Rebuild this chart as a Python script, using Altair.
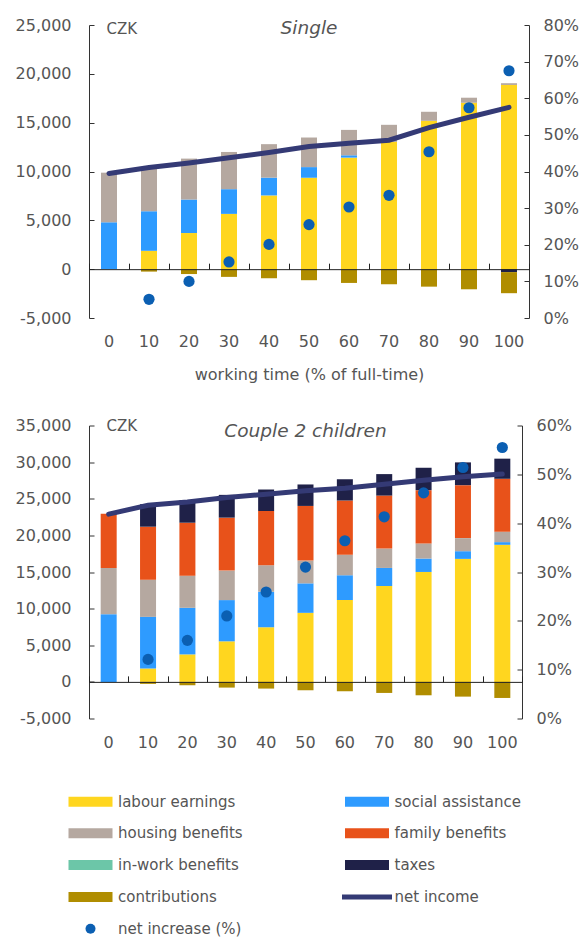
import altair as alt
import pandas as pd

x_vals = [0, 10, 20, 30, 40, 50, 60, 70, 80, 90, 100]
components = ["labour earnings", "social assistance", "housing benefits", "family benefits",
              "in-work benefits", "taxes", "contributions"]
# legend is filled column by column: this order reads row by row in two columns
legend_items = ["labour earnings", "housing benefits", "in-work benefits", "contributions",
                "net increase (%)", "social assistance", "family benefits", "taxes", "net income"]
legend_colors = ["#FFD61F", "#B5A8A0", "#6CC6A8", "#B08D00", "#0B5FB2",
                 "#2E9BFF", "#E8521A", "#1F2148", "#343A75"]
NET_COLOR = "#343A75"
DOT_COLOR = "#0B5FB2"

# Single
s_labour = [0, 1880, 3700, 5660, 7550, 9360, 11420, 13030, 15190, 17040, 18860]
s_social = [4800, 4050, 3430, 2530, 1820, 1090, 240, 0, 0, 0, 0]
s_housing = [5080, 4400, 4190, 3810, 3430, 3030, 2600, 1750, 925, 515, 180]
s_family = [0] * 11
s_inwork = [0] * 11
s_taxes = [0, 0, 0, 0, 0, 0, 0, 0, 0, 0, -300]
s_contrib = [0, -250, -500, -790, -930, -1130, -1410, -1545, -1790, -2060, -2160]
s_net = [9800, 10400, 10870, 11400, 11950, 12550, 12900, 13200, 14500, 15550, 16570]
s_inc = [None, 5.1, 10.0, 15.3, 20.1, 25.5, 30.3, 33.5, 45.4, 57.4, 67.5]

# Couple 2 children
c_labour = [0, 1830, 3750, 5535, 7457, 9425, 11163, 13085, 15006, 16790, 18712]
c_social = [9240, 7045, 6360, 5630, 4850, 4025, 3385, 2470, 1830, 1050, 366]
c_housing = [6315, 5080, 4390, 4025, 3614, 3110, 2790, 2650, 2060, 1785, 1420]
c_family = [7410, 7230, 7230, 7230, 7410, 7460, 7410, 7230, 7275, 7230, 7230]
c_inwork = [0] * 11
c_taxes = [0, 3070, 3070, 3110, 2930, 2930, 2930, 2930, 3060, 3110, 2745]
c_contrib = [0, -275, -460, -780, -915, -1145, -1280, -1510, -1830, -2013, -2196]
c_net = [22900, 24110, 24570, 25160, 25620, 26080, 26440, 26990, 27540, 28000, 28365]
c_inc = [None, 12.1, 16.0, 21.0, 25.9, 31.0, 36.4, 41.3, 46.2, 51.4, 55.5]

FONT = "DejaVu Sans"
GREY = "#555555"

legend = alt.Legend(
    title=None, orient="none", legendX=-6, legendY=769, columns=2, padding=0,
    columnPadding=98.5, rowPadding=15.8, labelFontSize=15, labelColor=GREY, labelFont=FONT,
    labelOffset=20, symbolSize=100, symbolStrokeWidth=0, symbolOpacity=1,
    symbolType={"expr": "datum.value === 'net income' ? 'M-5,-0.5H5V0.5H-5Z' : "
                        "(datum.value === 'net increase (%)' ? 'circle' : 'M-4.4,-1H4.4V1H-4.4Z')"},
)


def long_df(lists):
    rows = []
    for ci, (name, vals) in enumerate(zip(components, lists)):
        for x, v in zip(x_vals, vals):
            if v != 0:
                rows.append({"x": x, "component": name, "value": v, "order": ci})
    return pd.DataFrame(rows)


def panel(title, lists, net, inc, ymin, ymax, pmax, width, height, xtitle,
          title_off, czk_y, lpad, rpad):
    bars_df = long_df(lists)
    line_df = pd.DataFrame({"x": x_vals, "net": net})
    dot_df = pd.DataFrame({"x": x_vals, "pct": inc}).dropna()
    zero_off = -height * ymax / (ymax - ymin)
    xscale = alt.Scale(paddingInner=0, paddingOuter=0)
    left_axis = alt.Axis(
        values=list(range(ymin, ymax + 1, 5000)),
        labelExpr="(datum.value < 0 ? '-' : '') + format(abs(datum.value), ',')",
        title="CZK", titleAngle=0, titleAlign="left", titleBaseline="middle",
        titleX=17, titleY=czk_y, titleFontSize=15, titleFontWeight="normal", titleColor=GREY,
        titleFont=FONT, grid=False, tickSize={"expr": "-5"}, labelPadding=lpad,
    )
    bars = alt.Chart(bars_df).mark_bar(size=16).encode(
        x=alt.X("x:O", scale=xscale,
                axis=alt.Axis(title=xtitle, domain=False, ticks=False, labelAngle=0,
                              labelPadding=15.5, titlePadding=17, titleFontWeight="normal",
                              titleFontSize=16, titleColor=GREY, titleFont=FONT)),
        y=alt.Y("value:Q", stack="zero", scale=alt.Scale(domain=[ymin, ymax]), axis=left_axis),
        color=alt.Color("component:N", scale=alt.Scale(domain=legend_items, range=legend_colors),
                        legend=legend),
        order=alt.Order("order:Q", sort="ascending"),
    )
    line = alt.Chart(line_df).mark_line(color=NET_COLOR, strokeWidth=5, strokeCap="round").encode(
        x=alt.X("x:O", scale=xscale,
                axis=alt.Axis(orient="top", offset=zero_off, labels=False, title="",
                              domain=True, ticks=True, tickBand="extent", tickSize=6,
                              domainColor="#222222", tickColor="#222222", zindex=1)),
        y=alt.Y("net:Q", scale=alt.Scale(domain=[ymin, ymax]), axis=None),
    )
    dots = alt.Chart(dot_df).mark_circle(size=125, color=DOT_COLOR, opacity=1).encode(
        x=alt.X("x:O", scale=xscale, axis=None),
        y=alt.Y("pct:Q", scale=alt.Scale(domain=[0, pmax]),
                axis=alt.Axis(orient="right", values=list(range(0, pmax + 1, 10)),
                              labelExpr="datum.value + '%'", title="", grid=False,
                              tickSize={"expr": "-5"}, labelPadding=rpad)),
    )
    return alt.layer(bars, line, dots).resolve_scale(y="independent").resolve_axis(
        x="independent").properties(
        width=width, height=height,
        title=alt.TitleParams(title, fontStyle="italic", fontSize=18.5, font=FONT,
                              fontWeight="normal", color=GREY, offset=title_off),
    )


top = panel("Single", [s_labour, s_social, s_housing, s_family, s_inwork, s_taxes, s_contrib],
            s_net, s_inc, -5000, 25000, 80, 440, 293, "working time (% of full-time)",
            -20, 3, 23, 19)
bottom = panel("Couple 2 children",
               [c_labour, c_social, c_housing, c_family, c_inwork, c_taxes, c_contrib],
               c_net, c_inc, -5000, 35000, 60, 433, 293, "", -23, 0, 23, 19)

chart = alt.concat(top, bottom, columns=1, align="none", spacing=34.5).properties(
    padding={"left": 7, "top": 9, "right": 0, "bottom": 0}
).configure_view(strokeOpacity=0).configure_axis(
    labelFont=FONT, labelFontSize=16, labelColor=GREY, domainColor="#333333",
    tickColor="#333333", titleFont=FONT,
).configure_legend(labelFont=FONT)

chart.save("out.html", embed_options={"renderer": "svg", "actions": False})
